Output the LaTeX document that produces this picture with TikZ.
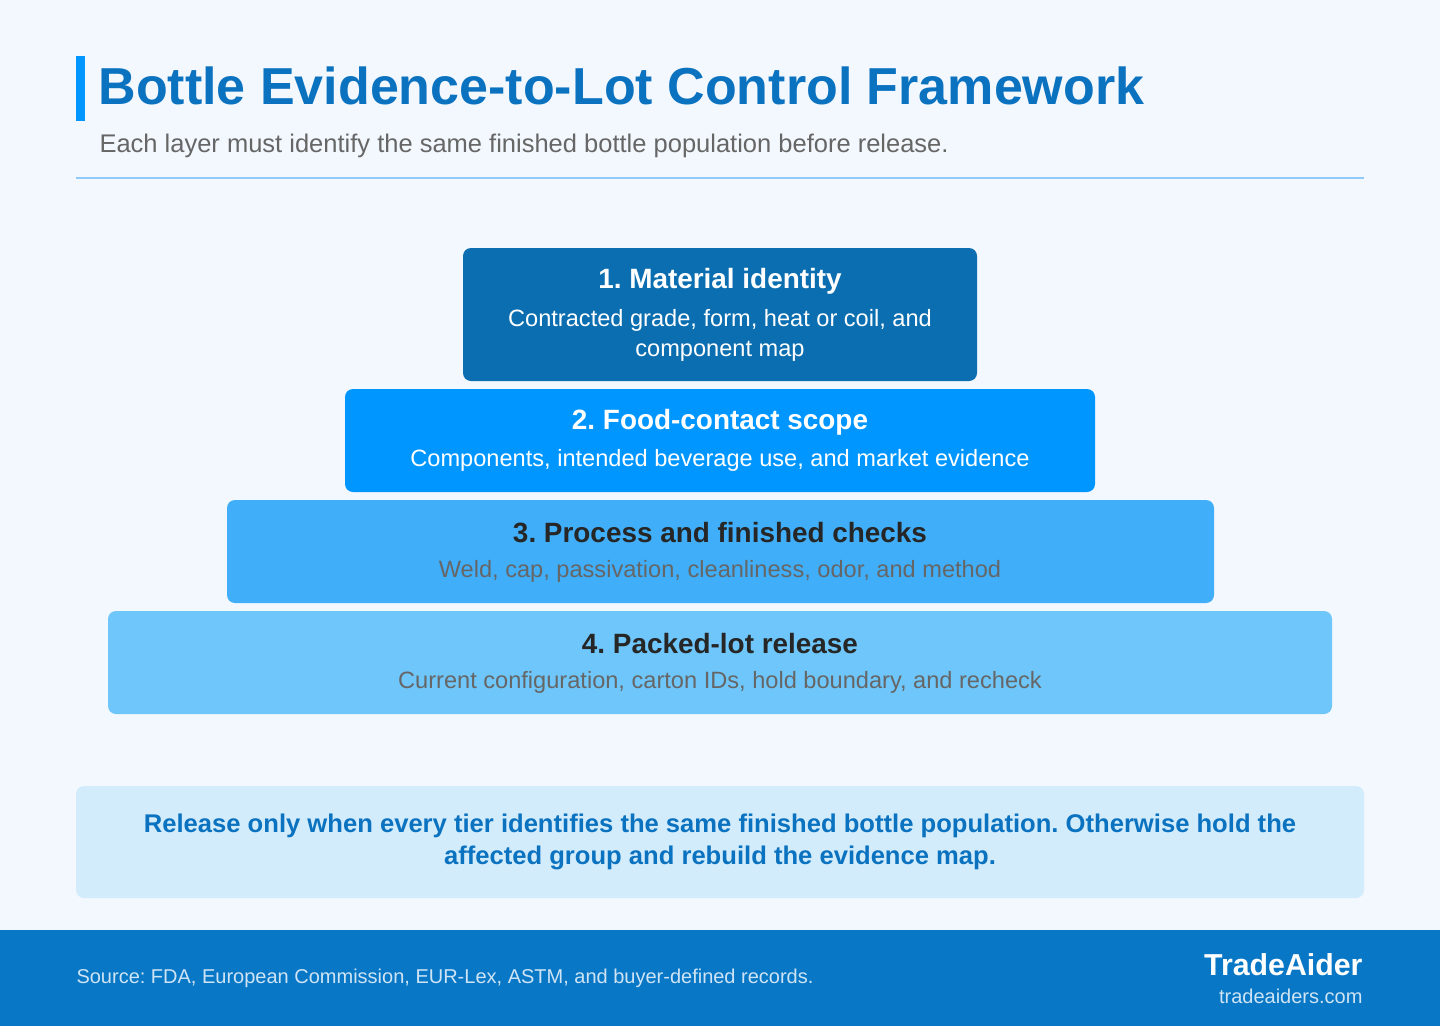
\documentclass[tikz,border=0pt]{standalone}
\usepackage{fontspec}
\setmainfont{Liberation Sans}
\frenchspacing
\usetikzlibrary{positioning}
\definecolor{pagebg}{HTML}{F3F8FE}
\definecolor{titleblue}{HTML}{0B72C0}
\definecolor{accent}{HTML}{0096FF}
\definecolor{tierA}{HTML}{0A6EB0}
\definecolor{tierB}{HTML}{0096FF}
\definecolor{tierC}{HTML}{40AEF8}
\definecolor{tierD}{HTML}{6EC6FA}
\definecolor{notebg}{HTML}{D2ECFC}
\definecolor{footbg}{HTML}{0877C6}
\definecolor{rulec}{HTML}{90CAF9}
\begin{document}
\begin{tikzpicture}[x=1pt,y=-1pt]
    \tikzstyle{tier} = [draw=none,rounded corners=8pt,inner sep=0pt]
    \tikzstyle{head} = [font=\fontsize{27.9}{30}\selectfont\bfseries]
    \tikzstyle{desc} = [font=\fontsize{23.6}{30}\selectfont,align=center]
    \useasboundingbox (0,0) rectangle (1440,1026);
    \fill [pagebg] (0,0) rectangle (1440,1026);
    \fill [accent] (76,56) rectangle (85,121);
    \node [anchor=base west,text=titleblue,font=\fontsize{52}{56}\selectfont\bfseries] (title) at (95,104) {Bottle Evidence-to-Lot Control Framework};
    \node [anchor=base west,text=black!60,font=\fontsize{25.5}{28}\selectfont] (sub) at (96,152) {Each layer must identify the same finished bottle population before release.};
    \draw [rulec,line width=1.5pt] (76,178) -- (1364,178);
    % tiers
    \fill [tier,tierA] (463,248) rectangle (977,381);
    \fill [tier,tierB] (345,389) rectangle (1095,492);
    \fill [tier,tierC] (227,500) rectangle (1214,603);
    \fill [tier,tierD] (108,611) rectangle (1332,714);
    \node [head,text=white] (h1) at (720,281) {1. Material identity};
    \node [desc,text=white] (d1) at (720,335) {Contracted grade, form, heat or coil, and\\component map};
    \node [head,text=white] (h2) at (720,422) {2. Food-contact scope};
    \node [desc,text=white] (d2) at (720,460) {Components, intended beverage use, and market evidence};
    \node [head,text=black!85] (h3) at (720,533) {3. Process and finished checks};
    \node [desc,text=black!60] (d3) at (720,571) {Weld, cap, passivation, cleanliness, odor, and method};
    \node [head,text=black!85] (h4) at (720,644) {4. Packed-lot release};
    \node [desc,text=black!60] (d4) at (720,682) {Current configuration, carton IDs, hold boundary, and recheck};
    % note
    \fill [tier,notebg] (76,786) rectangle (1364,898);
    \node [text=titleblue,align=center,font=\fontsize{25.6}{32}\selectfont\bfseries] (note) at (720,842) {Release only when every tier identifies the same finished bottle population. Otherwise hold the\\affected group and rebuild the evidence map.};
    % footer
    \fill [footbg] (0,930) rectangle (1440,1026);
    \node [anchor=base west,text=white!80!footbg,font=\fontsize{20}{22}\selectfont] (src) at (73,983) {Source: FDA, European Commission, EUR-Lex, ASTM, and buyer-defined records.};
    \node [anchor=base east,text=white,font=\fontsize{30.3}{32}\selectfont\bfseries] (brand) at (1366,975) {TradeAider};
    \node [anchor=base east,text=white!80!footbg,font=\fontsize{20}{22}\selectfont] (site) at (1366,1003) {tradeaiders.com};
\end{tikzpicture}
\end{document}
